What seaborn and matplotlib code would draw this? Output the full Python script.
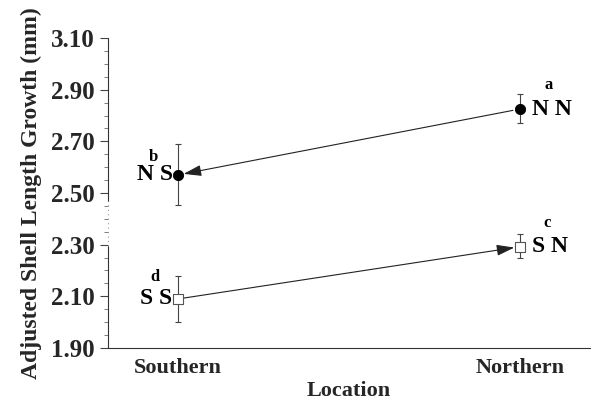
import matplotlib
matplotlib.use("Agg")
import matplotlib.pyplot as plt
import seaborn as sns

# === Data ===
locations = ["Southern", "Northern"]
x_pos = [0, 1]

# filled circles (N origin)
circle_mean = [2.57, 2.825]
circle_low = [2.455, 2.77]
circle_high = [2.69, 2.885]
circle_codes = ["N S", "N N"]
circle_letters = ["b", "a"]

# open squares (S origin)
square_mean = [2.09, 2.292]
square_low = [2.00, 2.248]
square_high = [2.18, 2.342]
square_codes = ["S S", "S N"]
square_letters = ["d", "c"]

yticks = [1.90, 2.10, 2.30, 2.50, 2.70, 2.90, 3.10]

# === Style ===
sns.set_theme(style="ticks")
plt.rcParams["font.family"] = ["Liberation Serif", "DejaVu Serif"]
plt.rcParams["font.weight"] = "bold"

fig = plt.figure(figsize=(5.91, 4.0), dpi=100)
ax = fig.add_axes([0.183, 0.13, 0.815, 0.775])

ink = "#222222"

# error bars
for mean, lo, hi in [(circle_mean, circle_low, circle_high),
                     (square_mean, square_low, square_high)]:
    yerr = [[m - l for m, l in zip(mean, lo)], [h - m for m, h in zip(mean, hi)]]
    ax.errorbar(x_pos, mean, yerr=yerr, fmt="none", ecolor="#444444",
                elinewidth=0.8, capsize=2.5, capthick=0.8, zorder=2)

# arrows: Northern circle -> Southern circle, Southern square -> Northern square
ax.annotate("", xy=(x_pos[0], circle_mean[0]), xytext=(x_pos[1], circle_mean[1]),
            arrowprops=dict(arrowstyle="-|>,head_length=0.9,head_width=0.28",
                            color=ink, lw=0.8, shrinkA=5, shrinkB=4), zorder=3)
ax.annotate("", xy=(x_pos[1], square_mean[1]), xytext=(x_pos[0], square_mean[0]),
            arrowprops=dict(arrowstyle="-|>,head_length=0.9,head_width=0.28",
                            color=ink, lw=0.8, shrinkA=4, shrinkB=4), zorder=3)

# markers
sns.scatterplot(x=x_pos, y=circle_mean, ax=ax, marker="o", s=55,
                color="black", edgecolor="black", zorder=4)
sns.scatterplot(x=x_pos, y=square_mean, ax=ax, marker="s", s=50,
                facecolor="white", edgecolor="#555555", linewidth=0.8, zorder=4)

# group labels
code_kw = dict(fontsize=17, fontweight="bold", color="black",
               textcoords="offset points", va="center")
letter_kw = dict(fontsize=12, fontweight="bold", color="black",
                 textcoords="offset points", ha="center", va="center")

ax.annotate(circle_codes[0], (x_pos[0], circle_mean[0]), xytext=(-4, 0), ha="right", **code_kw)
ax.annotate(circle_letters[0], (x_pos[0], circle_mean[0]), xytext=(-18, 13), **letter_kw)
ax.annotate(circle_codes[1], (x_pos[1], circle_mean[1]), xytext=(9, 0), ha="left", **code_kw)
ax.annotate(circle_letters[1], (x_pos[1], circle_mean[1]), xytext=(21, 17), **letter_kw)
ax.annotate(square_codes[0], (x_pos[0], square_mean[0]), xytext=(-4.5, 0), ha="right", **code_kw)
ax.annotate(square_letters[0], (x_pos[0], square_mean[0]), xytext=(-17, 16), **letter_kw)
ax.annotate(square_codes[1], (x_pos[1], square_mean[1]), xytext=(9, 0), ha="left", **code_kw)
ax.annotate(square_letters[1], (x_pos[1], square_mean[1]), xytext=(20, 17), **letter_kw)

# axes
ax.set_xlim(-0.205, 1.205)
ax.set_ylim(1.90, 3.10)
ax.set_xticks(x_pos)
ax.set_xticklabels(locations, fontsize=16, fontweight="bold")
ax.tick_params(axis="x", length=0, pad=7)
ax.set_yticks(yticks)
ax.set_yticklabels([f"{v:.2f}" for v in yticks], fontsize=18, fontweight="bold")
ax.set_yticks([1.90 + 0.05 * i for i in range(25)], minor=True)
ax.tick_params(axis="y", which="major", length=6, width=0.8, color="#444444", pad=4)
ax.tick_params(axis="y", which="minor", length=3, width=0.6, color="#666666")

ax.set_xlabel("Location", fontsize=16, fontweight="bold", labelpad=2)
ax.set_ylabel("Adjusted Shell Length Growth (mm)", fontsize=17, fontweight="bold", labelpad=6)

sns.despine(ax=ax)
ax.spines["bottom"].set_color("#333333")
ax.spines["bottom"].set_linewidth(0.8)

# broken y axis: solid below 2.30 and above 2.47, faint dotted in between
ax.spines["left"].set_visible(False)
lo_break = (2.295 - 1.90) / 1.2
hi_break = (2.47 - 1.90) / 1.2
ax.axvline(-0.205, ymin=0, ymax=lo_break, color="#333333", lw=0.8, clip_on=False)
ax.axvline(-0.205, ymin=hi_break, ymax=1, color="#333333", lw=0.8, clip_on=False)
ax.axvline(-0.205, ymin=lo_break, ymax=hi_break, color="#999999", lw=0.8,
           linestyle=(0, (1, 3)), clip_on=False)

fig.savefig("out.png", dpi=100)
